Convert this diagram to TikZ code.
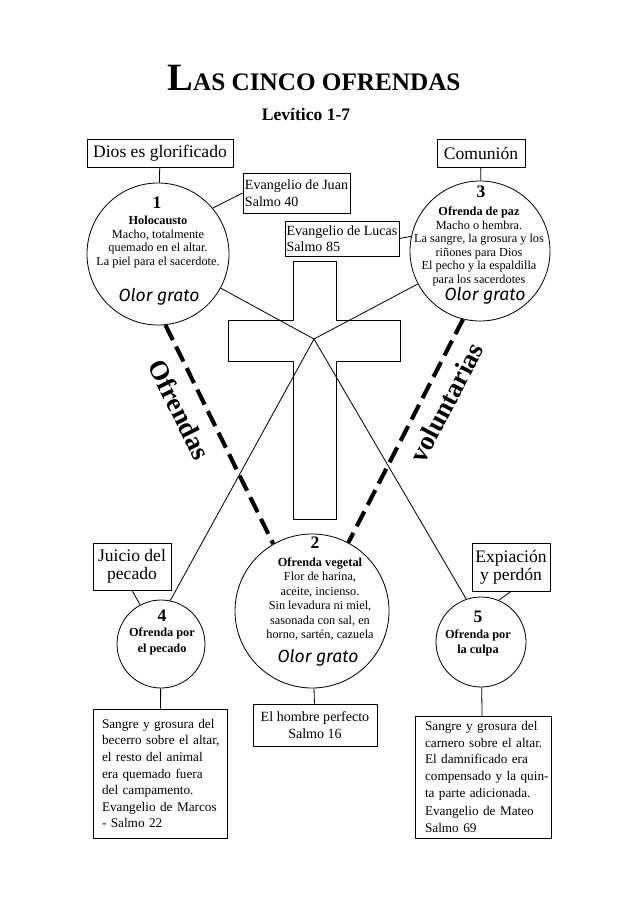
\documentclass[tikz,border=0pt]{standalone}
\usepackage{fontspec}
\setmainfont{Liberation Serif}
\newfontfamily\olorfont{Fira Sans}
\usepackage{tikz}
\tikzset{
    ofrenda/.style={shape=circle, draw=black, inner sep=0pt, minimum size=#1},
    caja/.style={draw=black, inner sep=0pt},
    cuerpo/.style={align=center, font=\fontsize{10.5}{11.5}\selectfont},
    numero/.style={font=\bfseries\fontsize{15}{15}\selectfont},
    olor/.style={font=\olorfont\itshape\fontsize{15}{15}\selectfont},
    guion/.style={line width=3.5pt, dash pattern=on 5mm off 2.2mm}}
\newcommand{\llena}[1]{\makebox[99pt][s]{#1}}

\begin{document}
\begin{tikzpicture}[x=0.3mm, y=-0.3mm, line width=0.7pt]
    \useasboundingbox (0,0) rectangle (638,904);

    % titulo
    \node[anchor=base] (titulo) at (314,90) {\bfseries\fontsize{33}{36}\selectfont L\fontsize{21.5}{24}\selectfont AS CINCO OFRENDAS};
    \node[anchor=base, font=\bfseries\fontsize{15}{18}\selectfont] (levitico) at (306,120) {Levítico 1-7};

    % cajas
    \node[caja, minimum width=43.8mm, minimum height=8.4mm, font=\fontsize{15}{18}\selectfont] (dios) at (160,153) {Dios es glorificado};
    \node[caja, minimum width=26.4mm, minimum height=8.4mm, font=\fontsize{15}{18}\selectfont] (comunion) at (481,153) {Comunión};
    \node[caja, minimum width=32.1mm, minimum height=12mm, align=left, font=\fontsize{12}{14}\selectfont] (juan) at (296.5,193) {Evangelio de Juan\\Salmo 40};
    \node[caja, minimum width=34.2mm, minimum height=10.5mm, align=left, font=\fontsize{12}{14}\selectfont] (lucas) at (342,238.5) {Evangelio de Lucas\\Salmo 85};
    \node[caja, minimum width=23.4mm, minimum height=14.1mm, align=center, font=\fontsize{15}{15.5}\selectfont] (juicio) at (132,566.5) {Juicio del\\pecado};
    \node[caja, minimum width=23.4mm, minimum height=14.4mm, align=center, font=\fontsize{15}{15.5}\selectfont] (expiacion) at (511,567) {Expiación\\y perdón};
    \node[caja, minimum width=37.2mm, minimum height=12.6mm, align=center, font=\fontsize{12}{14.5}\selectfont] (hombre) at (315,725) {El hombre perfecto\\Salmo 16};
    \node[caja, minimum width=40.2mm, minimum height=38.7mm, text width=99pt, align=left, font=\fontsize{11.3}{14.2}\selectfont] (marcos) at (160,773.5) {\llena{Sangre y grosura del}\\\llena{becerro sobre el altar,}\\\llena{el resto del animal}\\\llena{era quemado fuera}\\del campamento.\\\llena{Evangelio de Marcos}\\- Salmo 22};
    \node[caja, minimum width=40.8mm, minimum height=36.6mm, text width=99pt, align=left, font=\fontsize{11.3}{14.2}\selectfont] (mateo) at (483,777) {\llena{Sangre y grosura del}\\\llena{carnero sobre el altar.}\\\llena{El damnificado era}\\\llena{compensado y la quin-}\\ta parte adicionada.\\[2pt]Evangelio de Mateo\\Salmo 69};

    % cruz
    \draw (293,261) -- (336,261) -- (336,320) -- (400,320) -- (400,361) -- (336,361) -- (336,519) -- (293,519) -- (293,361) -- (228,361) -- (228,320) -- (293,320) -- cycle;

    % ofrendas
    \node[ofrenda=42.6mm] (o1) at (158,254) {};
    \node[ofrenda=42mm] (o3) at (480,251) {};
    \node[ofrenda=46.2mm] (o2) at (312,611) {};
    \node[ofrenda=26.4mm] (o4) at (161,644) {};
    \node[ofrenda=27mm] (o5) at (481,642) {};

    \node[numero] (n1) at (157,203) {1};
    \node[cuerpo] (t1) at (158,242) {\textbf{Holocausto}\\Macho, totalmente\\quemado en el altar.\\La piel para el sacerdote.};
    \node[olor] (g1) at (159,297) {Olor grato};

    \node[numero] (n3) at (481,192) {3};
    \node[cuerpo] (t3) at (479,246.5) {\textbf{Ofrenda de paz}\\Macho o hembra.\\La sangre, la grosura y los\\riñones para Dios\\El pecho y la espaldilla\\para los sacerdotes};
    \node[olor] (g3) at (485,296) {Olor grato};

    \node[numero] (n2) at (315,543) {2};
    \node[cuerpo, font=\fontsize{10.5}{12.3}\selectfont] (t2) at (320,599) {\textbf{Ofrenda vegetal}\\Flor de harina,\\aceite, incienso.\\Sin levadura ni miel,\\sasonada con sal, en\\horno, sartén, cazuela};
    \node[olor] (g2) at (318,658) {Olor grato};

    \node[numero] (n4) at (162,616) {4};
    \node[cuerpo, font=\bfseries\fontsize{10.5}{13.5}\selectfont] (t4) at (162,641.5) {Ofrenda por\\el pecado};
    \node[numero] (n5) at (478,617) {5};
    \node[cuerpo, font=\bfseries\fontsize{10.5}{13.5}\selectfont] (t5) at (478,643) {Ofrenda por\\la culpa};

    \node[rotate=-63.6, font=\bfseries\fontsize{23}{24}\selectfont] (ofrendas) at (179.5,409.5) {Ofrendas};
    \node[rotate=62.4, font=\bfseries\fontsize{23}{24}\selectfont] (voluntarias) at (446.5,402.5) {voluntarias};

    % lineas
    \coordinate (cruce) at (314,339);
    \draw (dios) -- (o1);
    \draw (comunion) -- (o3);
    \draw (o1.40) -- (juan.west);
    \draw (lucas.east) -- (o3.168);
    \draw (o1) -- (cruce) -- (o5.109);
    \draw (o3) -- (cruce) -- (o4.78);
    \draw[guion] (o1.-84) -- (o2.120);
    \draw[guion] (o3.-104) -- (o2.62);
    \draw (juicio.south) -- (o4.118);
    \draw (expiacion.south) -- (o5.67);
    \draw (o4) -- (marcos);
    \draw (o2) -- (hombre);
    \draw (o5) -- (mateo);

\end{tikzpicture}
\end{document}
